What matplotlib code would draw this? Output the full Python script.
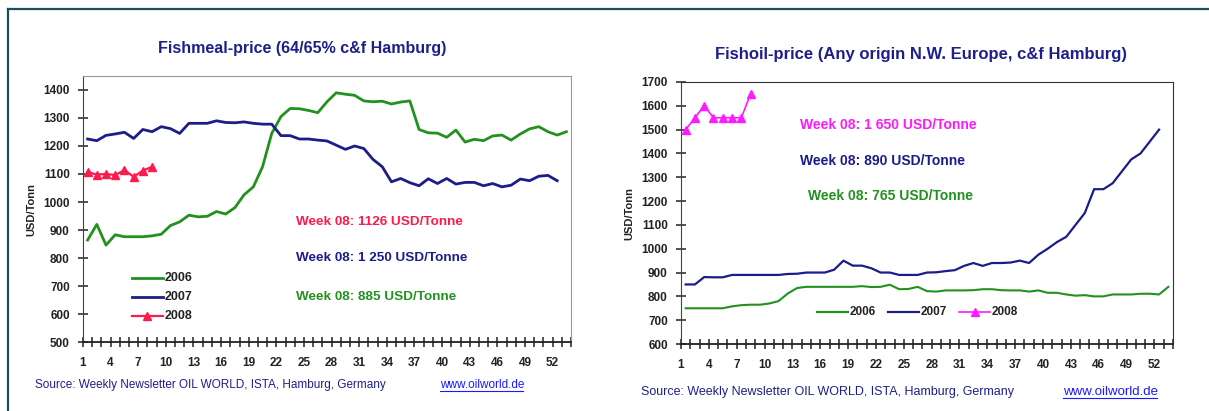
import numpy as np
import matplotlib
matplotlib.use("Agg")
import matplotlib.pyplot as plt
from matplotlib.lines import Line2D

plt.rcParams["font.family"] = ["Liberation Sans", "DejaVu Sans"]

# ---------------- data ----------------
weeks = np.arange(1, 54)
tick_weeks = [1, 4, 7, 10, 13, 16, 19, 22, 25, 28, 31, 34, 37, 40, 43, 46, 49, 52]

# Fishmeal, USD/Tonne
meal_2006 = [864, 920, 846, 883, 876, 876, 876, 879, 885, 916, 929, 953, 947, 949, 966,
             957, 980, 1026, 1054, 1126, 1245, 1305, 1334, 1333, 1327, 1319, 1358, 1390,
             1385, 1381, 1361, 1358, 1360, 1350, 1357, 1361, 1259, 1247, 1246, 1231, 1257,
             1214, 1224, 1219, 1236, 1239, 1221, 1243, 1261, 1269, 1251, 1239, 1251]
meal_2007 = [1225, 1219, 1238, 1243, 1249, 1227, 1259, 1251, 1269, 1262, 1245, 1281, 1281,
             1281, 1290, 1284, 1283, 1286, 1281, 1278, 1278, 1237, 1237, 1225, 1225, 1221,
             1218, 1203, 1188, 1200, 1191, 1152, 1126, 1072, 1084, 1069, 1058, 1083, 1066,
             1084, 1064, 1070, 1070, 1058, 1066, 1054, 1060, 1082, 1076, 1092, 1095, 1076]
meal_2008 = [1107, 1098, 1100, 1096, 1114, 1090, 1112, 1126]

# Fishoil, USD/Tonne
oil_2006 = [750, 750, 750, 750, 750, 758, 763, 765, 765, 770, 780, 812, 835, 840, 840,
            840, 840, 840, 840, 843, 839, 840, 849, 830, 831, 840, 822, 820, 825, 825,
            825, 826, 830, 830, 826, 825, 825, 820, 825, 815, 815, 808, 803, 805, 800,
            800, 808, 808, 808, 811, 811, 808, 840]
oil_2007 = [850, 850, 881, 880, 880, 890, 890, 890, 890, 890, 890, 894, 895, 900, 900,
            900, 912, 950, 929, 929, 918, 900, 900, 890, 890, 890, 900, 901, 906, 910,
            928, 940, 928, 940, 940, 942, 950, 940, 975, 1000, 1028, 1050, 1100, 1150,
            1250, 1250, 1275, 1325, 1375, 1400, 1450, 1500]
oil_2008 = [1500, 1550, 1600, 1550, 1550, 1550, 1550, 1650]

GREEN = "#23911f"
NAVY = "#1c1c8a"
RED = "#ff1a4d"
MAGENTA = "#ff19ff"
TITLE = "#1f1f8c"
LINK = "#1a1aff"

fig = plt.figure(figsize=(12.09, 4.11), dpi=100)

# outer frame (top and left edge)
fig.add_artist(Line2D([8 / 1209, 1], [1 - 9 / 411, 1 - 9 / 411], color="#1f4d5c", lw=1.6,
                      transform=fig.transFigure))
fig.add_artist(Line2D([8 / 1209, 8 / 1209], [0, 1 - 9 / 411], color="#1f4d5c", lw=1.6,
                      transform=fig.transFigure))


def setup_axis(ax, ylo, yhi, spine_col):
    ax.set_xlim(0.5, 53.5)
    ax.set_ylim(ylo, yhi)
    ax.set_yticks(np.arange(ylo, yhi + 1, 100))
    pos = np.arange(0.5, 54, 1.0)
    ax.set_xticks(pos)
    ax.set_xticklabels([str(int(p + 0.5)) if int(p + 0.5) in tick_weeks else "" for p in pos])
    ax.tick_params(axis="x", direction="inout", length=7, width=1.1, color="#222222",
                   pad=7, labelsize=8.5)
    ax.tick_params(axis="y", direction="inout", length=7, width=1.1, color="#222222",
                   pad=6, labelsize=8.5)
    for lab in ax.get_xticklabels() + ax.get_yticklabels():
        lab.set_fontweight("bold")
        lab.set_color("#222222")
    for s in ["top", "right"]:
        ax.spines[s].set_color(spine_col)
    ax.spines["left"].set_color("#444444")
    ax.spines["bottom"].set_color("#222222")
    ax.spines["bottom"].set_linewidth(1.3)
    ax.set_ylabel("USD/Tonn", fontsize=8, fontweight="bold", color="#222222", labelpad=5)


# ---------------- Fishmeal ----------------
ax1 = fig.add_axes([83 / 1209, 1 - 342 / 411, 488 / 1209, 266 / 411])
ax1.plot(weeks[:len(meal_2006)], meal_2006, color=GREEN, lw=2.0)
ax1.plot(weeks[:len(meal_2007)], meal_2007, color=NAVY, lw=2.0)
ax1.plot(weeks[:len(meal_2008)], meal_2008, color=RED, lw=1.6, marker="^", ms=6)
setup_axis(ax1, 500, 1450, "#9a9a9a")

ax1.text(23.6, 929, "Week 08: 1126 USD/Tonne", color=RED, fontsize=9.7, fontweight="bold",
         va="center")
ax1.text(23.6, 800, "Week 08: 1 250 USD/Tonne", color=NAVY, fontsize=9.7, fontweight="bold",
         va="center")
ax1.text(23.6, 661, "Week 08: 885 USD/Tonne", color=GREEN, fontsize=9.7, fontweight="bold",
         va="center")

leg_x = [5.8, 9.2]
for yv, col, lab, mk in [(729, GREEN, "2006", None), (661, NAVY, "2007", None),
                         (593, RED, "2008", "^")]:
    ax1.plot(leg_x, [yv, yv], color=col, lw=2.0 if mk is None else 1.6)
    if mk:
        ax1.plot([np.mean(leg_x)], [yv], color=col, marker=mk, ms=6)
    ax1.text(9.4, yv, lab, fontsize=9, fontweight="bold", color="#222222", va="center")

fig.text(302 / 1209, 1 - 48 / 411, "Fishmeal-price (64/65% c&f Hamburg)", ha="center",
         va="center", fontsize=11.5, fontweight="bold", color=TITLE)

# ---------------- Fishoil ----------------
ax2 = fig.add_axes([681 / 1209, 1 - 344 / 411, 492 / 1209, 262 / 411])
ax2.plot(weeks[:len(oil_2006)], oil_2006, color=GREEN, lw=1.5)
ax2.plot(weeks[:len(oil_2007)], oil_2007, color=NAVY, lw=1.6)
ax2.plot(weeks[:len(oil_2008)], oil_2008, color=MAGENTA, lw=1.2, marker="^", ms=6)
setup_axis(ax2, 600, 1700, "#333333")

ax2.text(13.3, 1519, "Week 08: 1 650 USD/Tonne", color=MAGENTA, fontsize=10,
         fontweight="bold", va="center")
ax2.text(13.3, 1369, "Week 08: 890 USD/Tonne", color=NAVY, fontsize=10, fontweight="bold",
         va="center")
ax2.text(14.2, 1222, "Week 08: 765 USD/Tonne", color=GREEN, fontsize=10, fontweight="bold",
         va="center")

for x0, col, lab, mk in [(15.2, GREEN, "2006", None), (22.8, NAVY, "2007", None),
                         (30.5, MAGENTA, "2008", "^")]:
    ax2.plot([x0, x0 + 3.3], [736, 736], color=col, lw=1.6 if mk is None else 1.2)
    if mk:
        ax2.plot([x0 + 1.65], [736], color=col, marker=mk, ms=6)
    ax2.text(x0 + 3.5, 736, lab, fontsize=8.5, fontweight="bold", color="#222222",
             va="center")

fig.text(921 / 1209, 1 - 54 / 411, "Fishoil-price (Any origin N.W. Europe, c&f Hamburg)",
         ha="center", va="center", fontsize=12, fontweight="bold", color=TITLE)

# ---------------- source lines ----------------
fig.text(35 / 1209, 1 - 385 / 411, "Source: Weekly Newsletter OIL WORLD, ISTA, Hamburg, Germany",
         fontsize=8.5, color=TITLE, va="center")
fig.text(440 / 1209, 1 - 385 / 411, "www.oilworld.de", fontsize=8.5, color=LINK, va="center")
fig.text(641 / 1209, 1 - 392 / 411, "Source: Weekly Newsletter OIL WORLD, ISTA, Hamburg, Germany",
         fontsize=9, color=TITLE, va="center")
fig.text(1063 / 1209, 1 - 392 / 411, "www.oilworld.de", fontsize=9.5, color=LINK, va="center")
fig.add_artist(Line2D([440 / 1209, 523 / 1209], [1 - 391 / 411, 1 - 391 / 411],
                      color=LINK, lw=0.8, transform=fig.transFigure))
fig.add_artist(Line2D([1063 / 1209, 1157 / 1209], [1 - 398 / 411, 1 - 398 / 411],
                      color=LINK, lw=0.8, transform=fig.transFigure))

fig.savefig("out.png", dpi=100)
